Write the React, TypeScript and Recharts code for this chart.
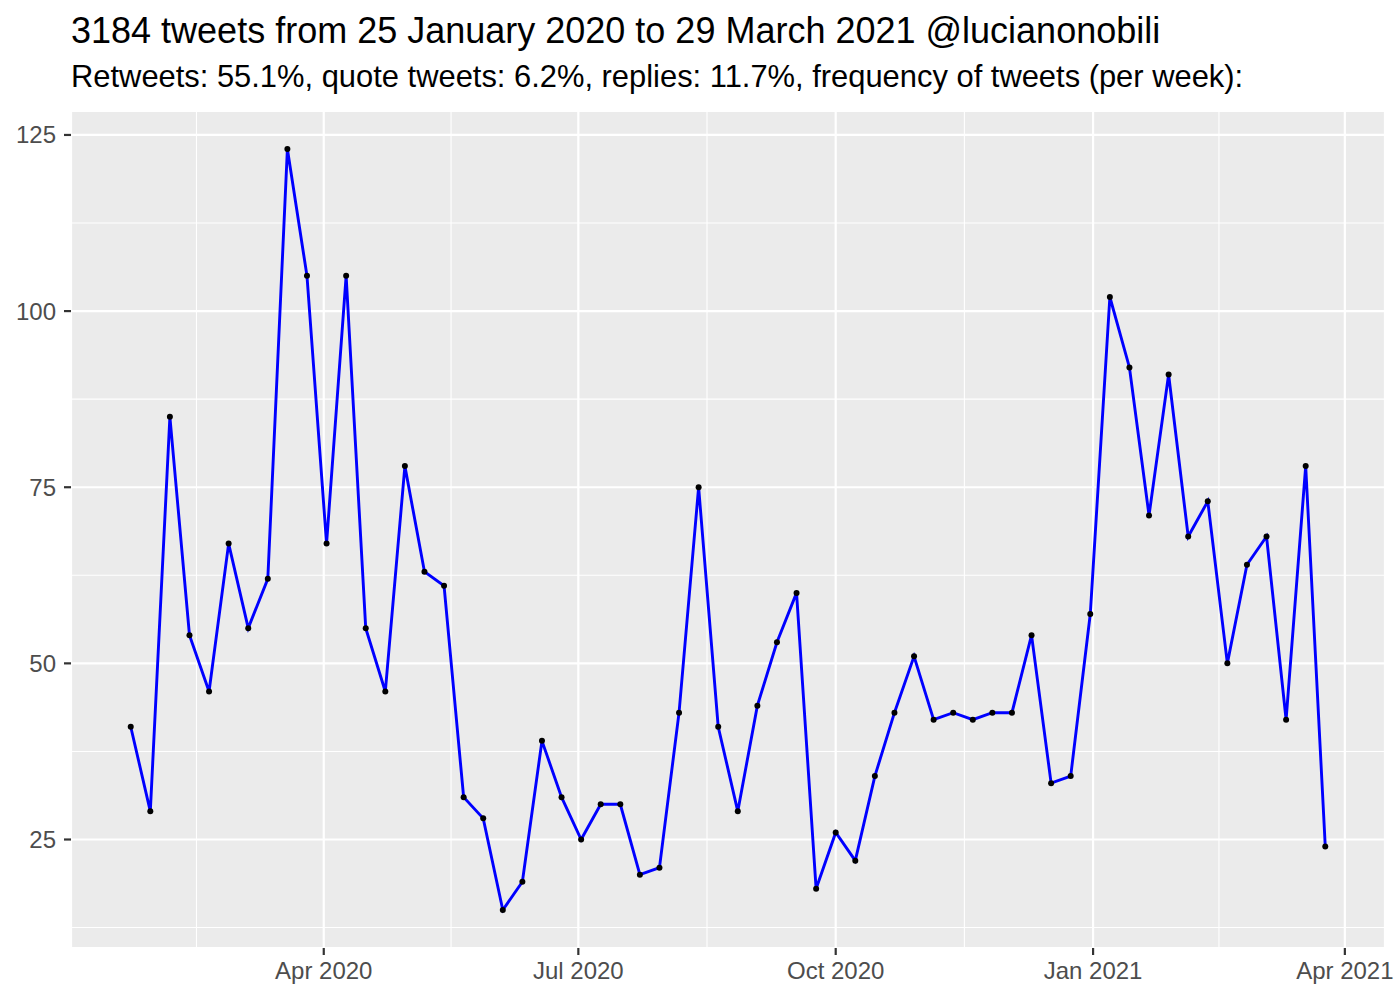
import React from "react";
import { LineChart, Line, XAxis, YAxis, CartesianGrid, ReferenceLine } from "recharts";

const weekStarts: string[] = [
  "2020-01-23", "2020-01-30", "2020-02-06", "2020-02-13", "2020-02-20", "2020-02-27",
  "2020-03-05", "2020-03-12", "2020-03-19", "2020-03-26", "2020-04-02", "2020-04-09",
  "2020-04-16", "2020-04-23", "2020-04-30", "2020-05-07", "2020-05-14", "2020-05-21",
  "2020-05-28", "2020-06-04", "2020-06-11", "2020-06-18", "2020-06-25", "2020-07-02",
  "2020-07-09", "2020-07-16", "2020-07-23", "2020-07-30", "2020-08-06", "2020-08-13",
  "2020-08-20", "2020-08-27", "2020-09-03", "2020-09-10", "2020-09-17", "2020-09-24",
  "2020-10-01", "2020-10-08", "2020-10-15", "2020-10-22", "2020-10-29", "2020-11-05",
  "2020-11-12", "2020-11-19", "2020-11-26", "2020-12-03", "2020-12-10", "2020-12-17",
  "2020-12-24", "2020-12-31", "2021-01-07", "2021-01-14", "2021-01-21", "2021-01-28",
  "2021-02-04", "2021-02-11", "2021-02-18", "2021-02-25", "2021-03-04", "2021-03-11",
  "2021-03-18", "2021-03-25",
];

const tweetsPerWeek: number[] = [
  41, 29, 85, 54, 46, 67, 55, 62, 123, 105, 67, 105,
  55, 46, 78, 63, 61, 31, 28, 15, 19, 39, 31, 25,
  30, 30, 20, 21, 43, 75, 41, 29, 44, 53, 60, 18,
  26, 22, 34, 43, 51, 42, 43, 42, 43, 43, 54, 33,
  34, 57, 102, 92, 71, 91, 68, 73, 50, 64, 68, 42,
  78, 24,
];

const xMajorDates: string[] = ["2020-04-01", "2020-07-01", "2020-10-01", "2021-01-01", "2021-04-01"];
const xMajorLabels: string[] = ["Apr 2020", "Jul 2020", "Oct 2020", "Jan 2021", "Apr 2021"];
const xMinorDates: string[] = ["2020-02-15T12:00:00Z", "2020-05-16T12:00:00Z", "2020-08-16T00:00:00Z", "2020-11-16T00:00:00Z", "2021-02-15T00:00:00Z"];
const yMajorTicks: number[] = [25, 50, 75, 100, 125];
const yMinorTicks: number[] = [12.5, 37.5, 62.5, 87.5, 112.5];

const titleText = "3184 tweets from 25 January 2020 to 29 March 2021 @lucianonobili";
const subtitleText = "Retweets: 55.1%, quote tweets: 6.2%, replies: 11.7%, frequency of tweets (per week):";

const toTs = (s: string) => Date.parse(s.length === 10 ? s + "T00:00:00Z" : s);

const data = weekStarts.map((d, i) => ({ t: toTs(d), n: tweetsPerWeek[i] }));
const xMajorTs = xMajorDates.map(toTs);
const xMinorTs = xMinorDates.map(toTs);

const tMin = Math.min(...data.map((d) => d.t));
const tMax = Math.max(...data.map((d) => d.t));
const tPad = (tMax - tMin) * 0.05;
const yMin = Math.min(...tweetsPerWeek);
const yMax = Math.max(...tweetsPerWeek);
const yPad = (yMax - yMin) * 0.05;

const labelFor = (ts: number) => {
  const i = xMajorTs.indexOf(ts);
  return i >= 0 ? xMajorLabels[i] : "";
};

const FONT = '"Liberation Sans", Arial, Helvetica, sans-serif';

if (typeof document !== "undefined") {
  document.body.style.margin = "0";
}

export default function App() {
  return (
    <div style={{ position: "relative", width: 1400, height: 1000, background: "#fff", fontFamily: FONT }}>
      <LineChart
        width={1400}
        height={1000}
        data={data}
        margin={{ top: 111, right: 15, bottom: 0, left: 0 }}
        style={{ position: "absolute", left: 0, top: 0 }}
      >
        <CartesianGrid fill="#EBEBEB" stroke="#FFFFFF" strokeWidth={2.2} />
        {yMinorTicks.map((v) => (
          <ReferenceLine key={"ym" + v} y={v} stroke="#FFFFFF" strokeWidth={1.1} />
        ))}
        {xMinorTs.map((v) => (
          <ReferenceLine key={"xm" + v} x={v} stroke="#FFFFFF" strokeWidth={1.1} />
        ))}
        <XAxis
          dataKey="t"
          type="number"
          scale="time"
          domain={[tMin - tPad, tMax + tPad]}
          ticks={xMajorTs}
          tickFormatter={labelFor}
          axisLine={false}
          tickLine={{ stroke: "#333333", strokeWidth: 2.2 }}
          tickSize={7}
          tickMargin={7}
          height={52}
          interval={0}
          allowDataOverflow
          tick={{ fill: "#4D4D4D", fontSize: 24, fontFamily: FONT }}
        />
        <YAxis
          type="number"
          domain={[yMin - yPad, yMax + yPad]}
          ticks={yMajorTicks}
          axisLine={false}
          tickLine={{ stroke: "#333333", strokeWidth: 2.2 }}
          tickSize={7}
          tickMargin={8}
          width={71}
          interval={0}
          allowDataOverflow
          tick={{ fill: "#4D4D4D", fontSize: 24, fontFamily: FONT }}
        />
        <Line
          dataKey="n"
          stroke="none"
          isAnimationActive={false}
          dot={{ r: 3, fill: "#000000", stroke: "none" }}
          activeDot={false}
        />
        <Line
          dataKey="n"
          type="linear"
          stroke="#0000FF"
          strokeWidth={2.9}
          isAnimationActive={false}
          dot={false}
          activeDot={false}
        />
      </LineChart>
      <div
        style={{
          position: "absolute",
          left: 71,
          top: 13,
          fontSize: 36,
          lineHeight: 1,
          color: "#000",
          whiteSpace: "nowrap",
        }}
      >
        {titleText}
      </div>
      <div
        style={{
          position: "absolute",
          left: 71,
          top: 62,
          fontSize: 30.9,
          lineHeight: 1,
          color: "#000",
          whiteSpace: "nowrap",
        }}
      >
        {subtitleText}
      </div>
    </div>
  );
}
